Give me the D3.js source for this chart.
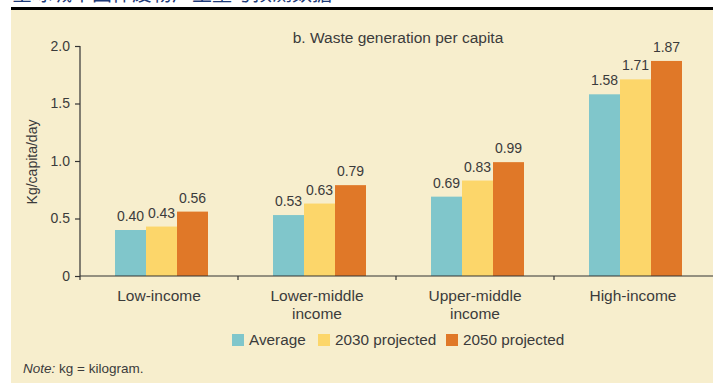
<!DOCTYPE html>
<html><head><meta charset="utf-8">
<script src="https://cdn.jsdelivr.net/npm/d3@7"></script>
<style>
body{margin:0;background:#fff;}
svg{display:block;font-family:"Liberation Sans",Arial,sans-serif;}
</style></head>
<body><svg id="c" width="713" height="383"></svg>
<script>
const categories = [["Low-income"], ["Lower-middle","income"], ["Upper-middle","income"], ["High-income"]];
const seriesNames = ["Average", "2030 projected", "2050 projected"];
const average = [0.40, 0.53, 0.69, 1.58];
const projected2030 = [0.43, 0.63, 0.83, 1.71];
const projected2050 = [0.56, 0.79, 0.99, 1.87];
const yTicks = [0, 0.5, 1.0, 1.5, 2.0];
const yTickLabels = ["0", "0.5", "1.0", "1.5", "2.0"];
const colors = ["#80c6cb", "#fcd66a", "#e07828"];

const svg = d3.select("#c");
const txt = "#3b3b3b";

// background panel
svg.append("rect").attr("x",11).attr("y",10).attr("width",702).attr("height",373).attr("fill","#f7eecd");
// clipped header text fragment + rule
svg.append("clipPath").attr("id","hc").append("rect").attr("x",0).attr("y",0).attr("width",713).attr("height",7);
svg.append("text").attr("clip-path","url(#hc)").attr("x",12).attr("y",1).attr("font-size",20)
  .attr("fill","#1d3a78").attr("font-family","Noto Sans CJK SC").text("全球城市固体废物产生量与预测数据");
svg.append("rect").attr("x",11).attr("y",7).attr("width",702).attr("height",3).attr("fill","#000");

const x0 = d3.scaleBand().domain(d3.range(categories.length)).range([80, 712]).paddingInner(0).paddingOuter(0);
const x1 = d3.scaleBand().domain(d3.range(seriesNames.length)).range([35, 128]);
const y = d3.scaleLinear().domain([0, 2]).range([276, 46]);

const data = [average, projected2030, projected2050];

// bars
categories.forEach((c, i) => {
  const g = svg.append("g").attr("transform", `translate(${x0(i)},0)`);
  data.forEach((s, j) => {
    g.append("rect").attr("x", x1(j)).attr("width", x1.bandwidth())
      .attr("y", y(s[i])).attr("height", y(0) - y(s[i])).attr("fill", colors[j]);
    g.append("text").attr("x", x1(j) + x1.bandwidth()/2).attr("y", y(s[i]) - 9)
      .attr("text-anchor","middle").attr("font-size",14).attr("fill",txt).text(s[i].toFixed(2));
  });
});

// y axis
const yAxis = d3.axisLeft(y).tickValues(yTicks).tickFormat((d,i)=>yTickLabels[i]).tickSize(5).tickPadding(5);
const ya = svg.append("g").attr("transform","translate(80,0)").call(yAxis);
ya.select(".domain").attr("d","M0,46V280").attr("stroke","#333").attr("stroke-width",1.2);
ya.selectAll(".tick line").attr("stroke","#333").attr("stroke-width",1.2);
ya.selectAll(".tick text").attr("font-size",14).attr("fill",txt).attr("font-family","Liberation Sans, Arial, sans-serif");

// x axis
const xa = svg.append("g");
xa.append("line").attr("x1",80).attr("x2",713).attr("y1",y(0)).attr("y2",y(0)).attr("stroke","#333").attr("stroke-width",1.2);
x0.domain().slice(1).forEach(i => {
  xa.append("line").attr("x1",x0(i)).attr("x2",x0(i)).attr("y1",y(0)).attr("y2",y(0)+4).attr("stroke","#333").attr("stroke-width",1.2);
});
categories.forEach((c, i) => {
  const t = xa.append("text").attr("x", x0(i) + x0.bandwidth()/2).attr("y", 301)
    .attr("text-anchor","middle").attr("font-size",15.5).attr("fill",txt);
  c.forEach((line, k) => t.append("tspan").attr("x", x0(i) + x0.bandwidth()/2).attr("dy", k ? 18 : 0).text(line));
});

// y label
svg.append("text").attr("transform","translate(37,162) rotate(-90)").attr("text-anchor","middle")
  .attr("font-size",14).attr("fill",txt).text("Kg/capita/day");

// title
svg.append("text").attr("x",398).attr("y",43).attr("text-anchor","middle").attr("font-size",15.5)
  .attr("fill",txt).text("b. Waste generation per capita");

// legend
const legX = [232, 318, 446];
seriesNames.forEach((n, j) => {
  svg.append("rect").attr("x", legX[j]).attr("y", 334).attr("width", 12).attr("height", 12).attr("fill", colors[j]);
  svg.append("text").attr("x", legX[j] + 17).attr("y", 345).attr("font-size",15.3).attr("fill",txt).text(n);
});

// note
const note = svg.append("text").attr("x",23).attr("y",373).attr("font-size",13.5).attr("fill",txt);
note.append("tspan").attr("font-style","italic").text("Note:");
note.append("tspan").text(" kg = kilogram.");
</script></body></html>
